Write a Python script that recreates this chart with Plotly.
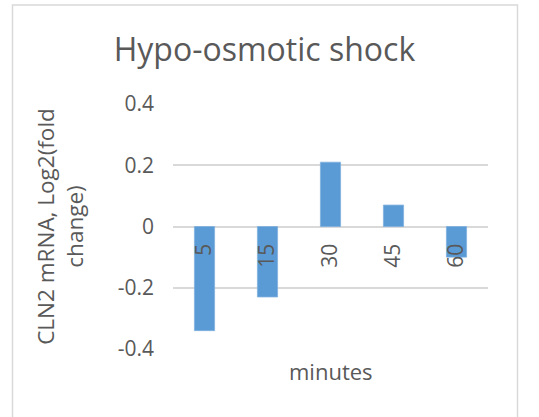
import plotly.graph_objects as go

categories = ["5", "15", "30", "45", "60"]
values = [-0.34, -0.23, 0.21, 0.07, -0.10]
y_ticks = [-0.4, -0.2, 0, 0.2, 0.4]
y_tick_labels = ["-0.4", "-0.2", "0", "0.2", "0.4"]

W, H = 539, 417
ml, mr, mt, mb = 173, 51, 104, 68
pw, ph = W - ml - mr, H - mt - mb
ymin, ymax = -0.4, 0.4

def px_x(px):
    return (px - ml) / pw

def px_y(py):
    return (H - py - mb) / ph

font = "Open Sans"
txt = "#595959"
grid = "#d9d9d9"

fig = go.Figure()
fig.add_trace(go.Bar(
    x=categories, y=values,
    marker=dict(color="#5b9bd5", line=dict(color="#7fb0de", width=0.8)),
    width=0.32,
))

zero_pos = (0 - ymin) / (ymax - ymin)

fig.update_layout(
    width=W, height=H,
    margin=dict(l=ml, r=mr, t=mt, b=mb, autoexpand=False),
    paper_bgcolor="white", plot_bgcolor="white",
    showlegend=False,
    title=dict(text="Hypo-osmotic shock", x=px_x(264.5), xanchor="center",
               xref="paper", y=1 - 50 / H, yanchor="middle",
               font=dict(family=font, size=32, color=txt)),
    xaxis=dict(
        type="category",
        anchor="free", position=zero_pos,
        showline=False, showgrid=False, zeroline=False,
        ticks="", tickangle=-90, ticklabelstandoff=12,
        tickfont=dict(family=font, size=21, color=txt),
    ),
    yaxis=dict(
        range=[ymin, ymax], tickvals=y_ticks, ticktext=y_tick_labels,
        showgrid=True, gridcolor=grid, gridwidth=1.5,
        zeroline=True, zerolinecolor=grid, zerolinewidth=1.5,
        showline=False, ticks="", ticklabelstandoff=18,
        tickfont=dict(family=font, size=21, color=txt),
        title=dict(text="CLN2 mRNA, Log2(fold<br>change)", standoff=27,
                   font=dict(family=font, size=22.5, color=txt)),
        automargin=False,
    ),
    annotations=[dict(
        text="minutes", xref="paper", yref="paper",
        x=0.5, y=px_y(371), xanchor="center", yanchor="middle",
        showarrow=False, font=dict(family=font, size=22, color=txt),
    )],
    shapes=[dict(
        type="rect", xref="paper", yref="paper",
        x0=px_x(12.5), x1=px_x(517.5), y0=px_y(430), y1=px_y(5),
        line=dict(color=grid, width=1.5), layer="below",
    )],
)

fig.write_html("out.html", config={"displayModeBar": False},
               post_script="document.body.style.margin='0';")
